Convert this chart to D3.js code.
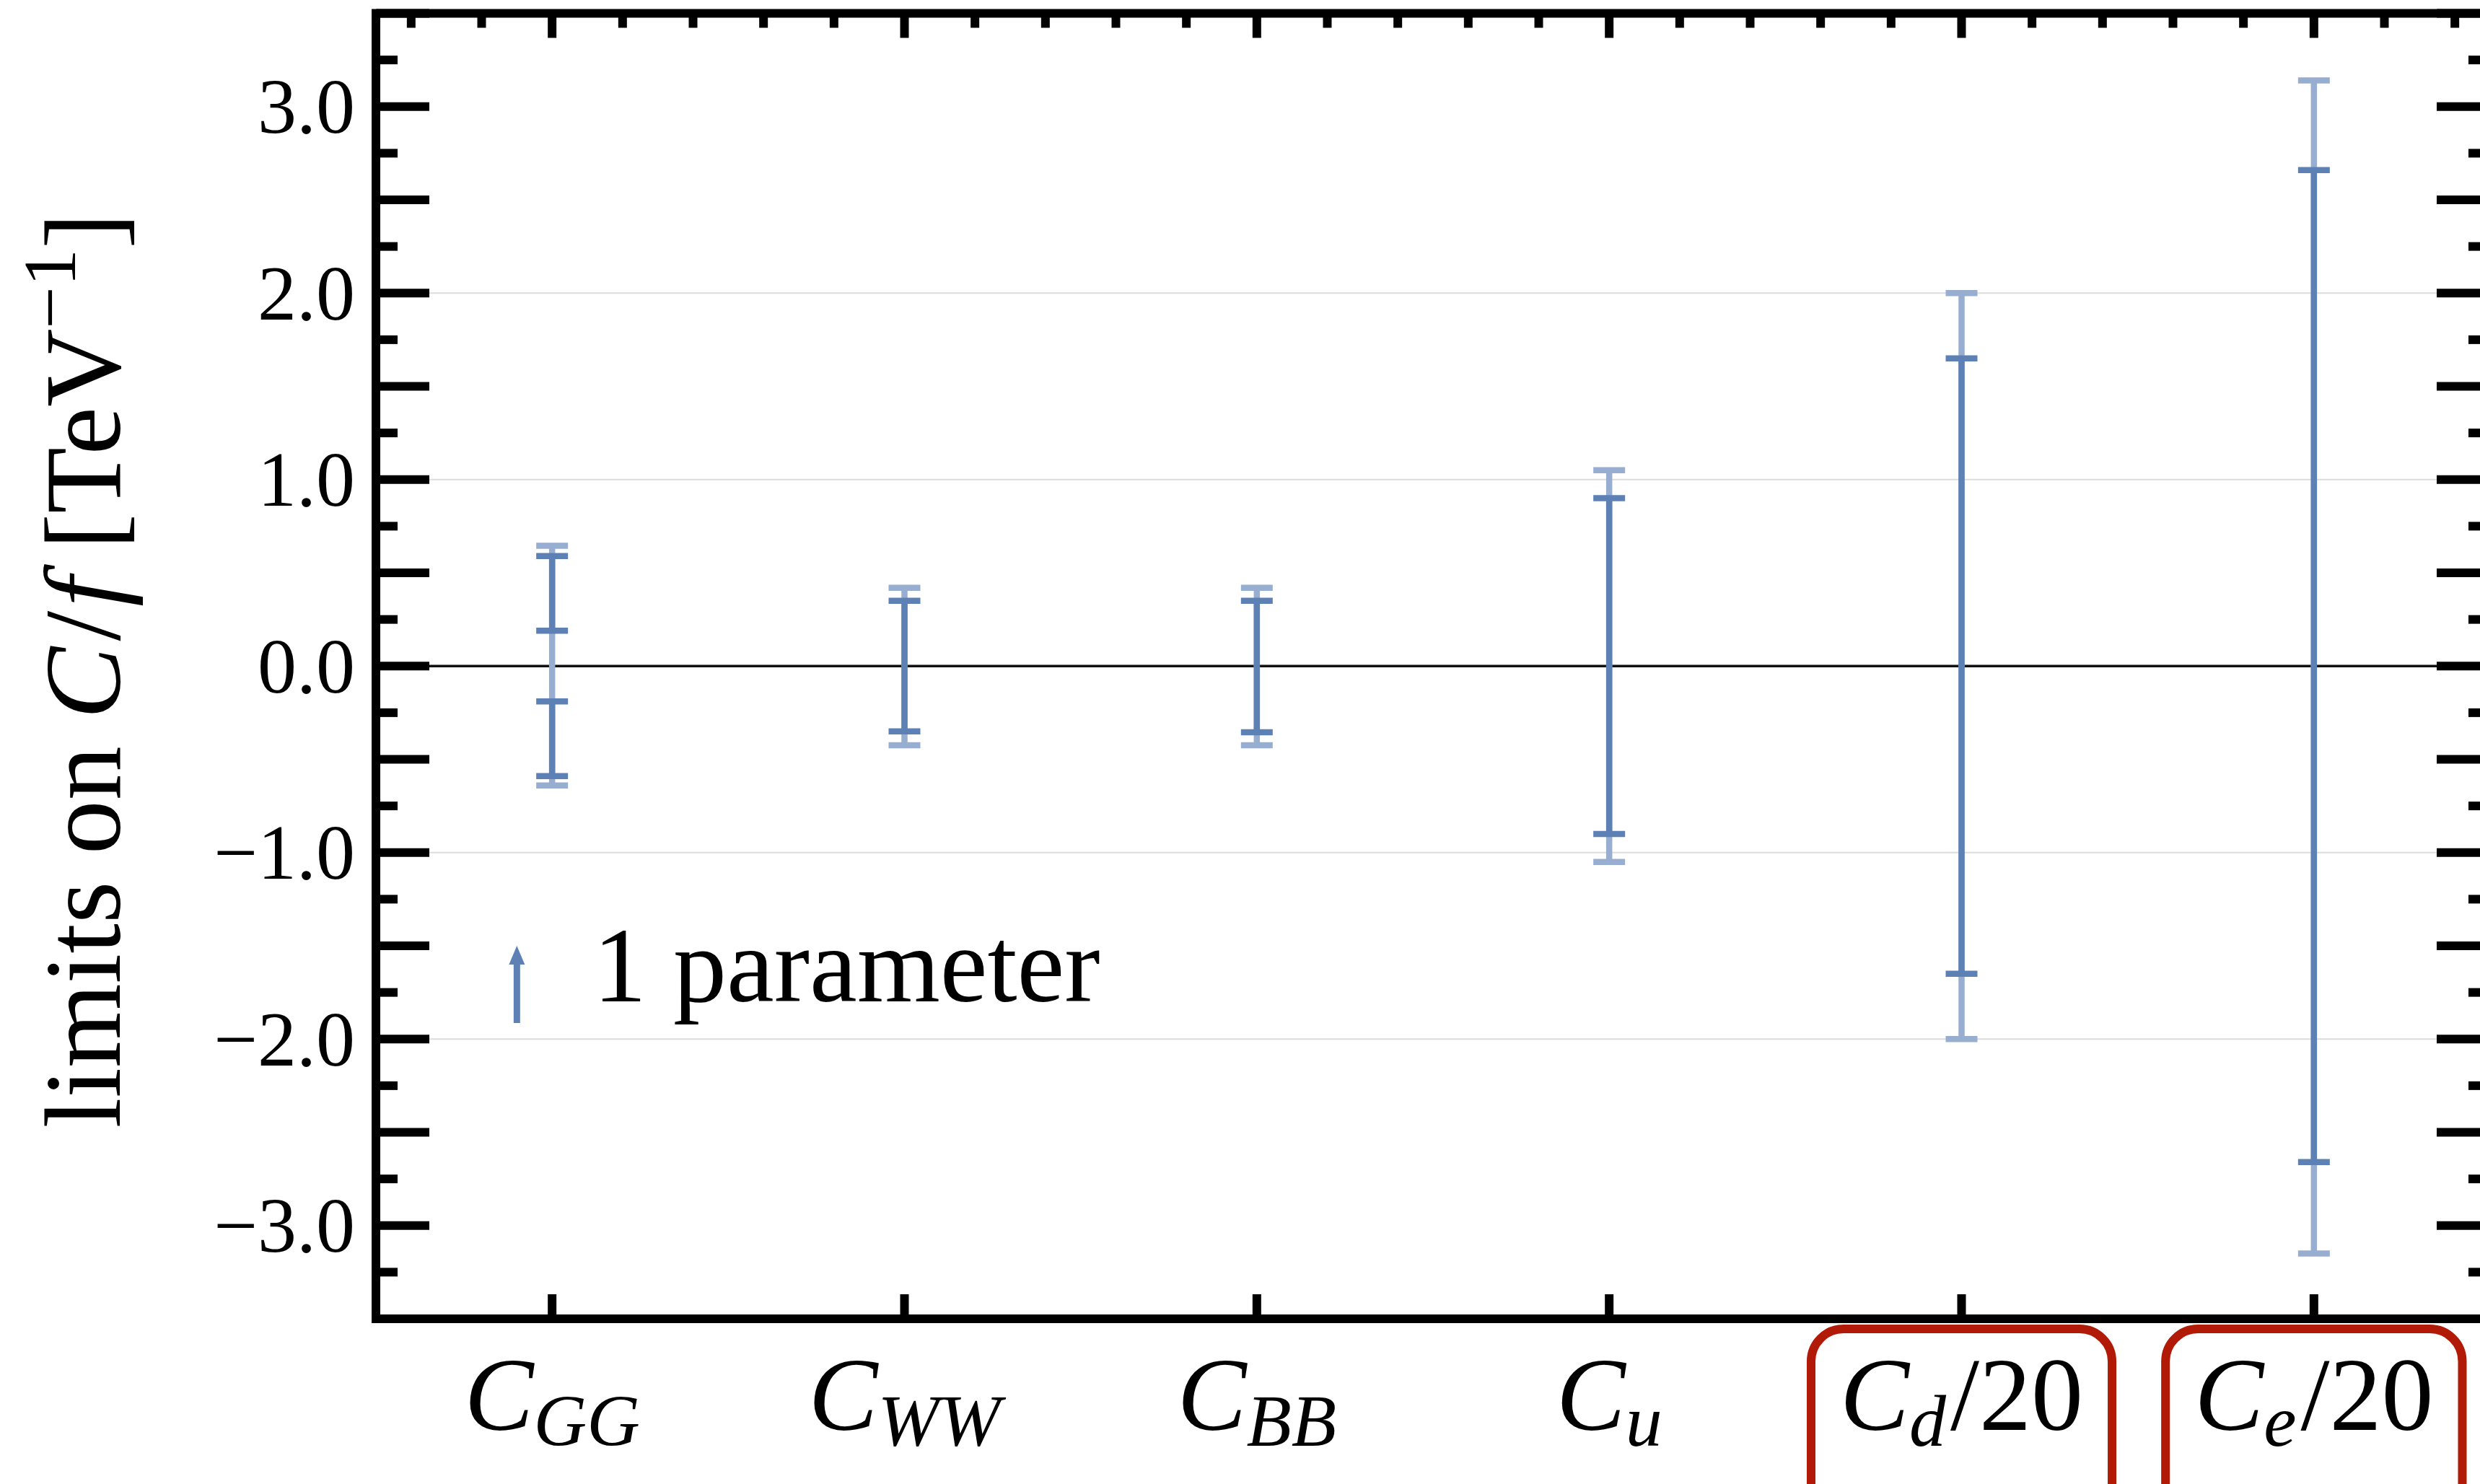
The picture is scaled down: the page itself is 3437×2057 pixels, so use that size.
<!DOCTYPE html>
<html>
<head>
<meta charset="utf-8">
<script src="https://cdn.jsdelivr.net/npm/d3@7"></script>
<style>
  html, body { margin: 0; padding: 0; background: #fff; overflow: hidden; }
  svg { display: block; }
  text { font-family: "Liberation Serif", "Times New Roman", serif; fill: #000; }
</style>
</head>
<body>
<script>
// ---- data ----
const categories = ["C_GG", "C_WW", "C_BB", "C_u", "C_d/20", "C_e/20"];
const labelMain = ["C", "C", "C", "C", "C", "C"];
const labelSub = ["GG", "WW", "BB", "u", "d", "e"];
const labelSuffix = ["", "", "", "", "/20", "/20"];
const highlighted = [false, false, false, false, true, true];
const outerLow = [-0.64, -0.425, -0.425, -1.05, -2.0, -3.15];
const outerHigh = [0.645, 0.42, 0.42, 1.05, 2.0, 3.14];
const innerSegments = [
  [[-0.59, -0.19], [0.19, 0.59]],
  [[-0.35, 0.35]],
  [[-0.355, 0.35]],
  [[-0.9, 0.9]],
  [[-1.65, 1.65]],
  [[-2.66, 2.66]]
];
const yTickValues = [-3, -2, -1, 0, 1, 2, 3];
const yTickLabels = ["\u22123.0", "\u22122.0", "\u22121.0", "0.0", "1.0", "2.0", "3.0"];
const gridValues = [-2, -1, 1, 2];
const legendLabel = "1 parameter";

// ---- layout ----
const W = 3437, H = 2057;
const darkBlue = "#5e81b5";
const lightBlue = "#98aed1";
const boxRed = "#b11a06";

const svg = d3.select("body").append("svg").attr("width", W).attr("height", H);

const x = d3.scaleLinear().domain([0.5, 6.5]).range([521, 3451]);
const y = d3.scaleLinear().domain([-3.5, 3.5]).range([1828, 18.5]);

// gridlines
svg.append("g").selectAll("line").data(gridValues).join("line")
  .attr("x1", x(0.5)).attr("x2", x(6.5))
  .attr("y1", d => y(d)).attr("y2", d => y(d))
  .attr("stroke", "#dcdcdc").attr("stroke-width", 2);

// zero line
svg.append("line")
  .attr("x1", x(0.5)).attr("x2", x(6.5))
  .attr("y1", y(0)).attr("y2", y(0))
  .attr("stroke", "#111").attr("stroke-width", 3.5);

// error bars
const capW = 44, lw = 8.5;
const gBars = svg.append("g");
categories.forEach((c, i) => {
  const cx = x(i + 1);
  const g = gBars.append("g");
  // outer (light)
  g.append("line").attr("x1", cx).attr("x2", cx)
    .attr("y1", y(outerLow[i])).attr("y2", y(outerHigh[i]))
    .attr("stroke", lightBlue).attr("stroke-width", lw);
  [outerLow[i], outerHigh[i]].forEach(v => {
    g.append("line").attr("x1", cx - capW / 2).attr("x2", cx + capW / 2)
      .attr("y1", y(v)).attr("y2", y(v))
      .attr("stroke", lightBlue).attr("stroke-width", lw);
  });
  // inner (dark)
  innerSegments[i].forEach(seg => {
    g.append("line").attr("x1", cx).attr("x2", cx)
      .attr("y1", y(seg[0])).attr("y2", y(seg[1]))
      .attr("stroke", darkBlue).attr("stroke-width", lw);
    seg.forEach(v => {
      g.append("line").attr("x1", cx - capW / 2).attr("x2", cx + capW / 2)
        .attr("y1", y(v)).attr("y2", y(v))
        .attr("stroke", darkBlue).attr("stroke-width", lw);
    });
  });
});

// frame
const frameW = 12;
const fx0 = x(0.5), fx1 = x(6.5), fy0 = y(3.5), fy1 = y(-3.5);
svg.append("rect").attr("x", fx0).attr("y", fy0)
  .attr("width", fx1 - fx0).attr("height", fy1 - fy0)
  .attr("fill", "none").attr("stroke", "#000").attr("stroke-width", frameW);

// left/right ticks
const yMajor = d3.range(-3.5, 3.51, 0.5);
const yMinor = d3.range(-3.25, 3.3, 0.5);
const tickG = svg.append("g").attr("stroke", "#000").attr("stroke-width", frameW);
yMajor.forEach(v => {
  tickG.append("line").attr("x1", fx0).attr("x2", fx0 + 74).attr("y1", y(v)).attr("y2", y(v));
  tickG.append("line").attr("x1", fx1).attr("x2", fx1 - 74).attr("y1", y(v)).attr("y2", y(v));
});
yMinor.forEach(v => {
  tickG.append("line").attr("x1", fx0).attr("x2", fx0 + 30).attr("y1", y(v)).attr("y2", y(v));
  tickG.append("line").attr("x1", fx1).attr("x2", fx1 - 30).attr("y1", y(v)).attr("y2", y(v));
});
// top/bottom ticks
categories.forEach((c, i) => {
  const cx = x(i + 1);
  tickG.append("line").attr("x1", cx).attr("x2", cx).attr("y1", fy0).attr("y2", fy0 + 34);
  tickG.append("line").attr("x1", cx).attr("x2", cx).attr("y1", fy1).attr("y2", fy1 - 34);
  [-0.4, -0.2, 0.2, 0.4].forEach(o => {
    const mx = x(i + 1 + o);
    tickG.append("line").attr("x1", mx).attr("x2", mx).attr("y1", fy0).attr("y2", fy0 + 20);
  });
});

// y tick labels
svg.append("g").selectAll("text").data(yTickValues).join("text")
  .attr("x", 492).attr("y", d => y(d))
  .attr("dy", "0.34em")
  .attr("text-anchor", "end")
  .attr("font-size", 108)
  .text((d, i) => yTickLabels[i]);

// y axis title
const title = svg.append("text")
  .attr("transform", `translate(166, ${(fy0 + fy1) / 2 + 6}) rotate(-90)`)
  .attr("text-anchor", "middle")
  .attr("font-size", 150);
title.append("tspan").text("limits on ");
title.append("tspan").attr("font-style", "italic").text("C");
title.append("tspan").attr("dx", 8).text("/");
title.append("tspan").attr("font-style", "italic").attr("dx", 6).text("f");
title.append("tspan").text(" [TeV");
title.append("tspan").attr("font-size", 104).attr("dy", -62).text("\u22121");
title.append("tspan").attr("dy", 62).text("]");

// x labels
categories.forEach((c, i) => {
  const cx = x(i + 1);
  const t = svg.append("text")
    .attr("x", cx).attr("y", 1982)
    .attr("text-anchor", "middle")
    .attr("font-size", 144);
  t.append("tspan").attr("font-style", "italic").text(labelMain[i]);
  t.append("tspan").attr("font-style", "italic").attr("font-size", 102).attr("dy", 22).text(labelSub[i]);
  if (labelSuffix[i]) t.append("tspan").attr("dy", -22).attr("dx", 6).text(labelSuffix[i]);
  if (highlighted[i]) {
    const bb = t.node().getBBox();
    svg.append("rect")
      .attr("x", bb.x - 40).attr("y", 1842)
      .attr("width", bb.width + 80).attr("height", 260)
      .attr("rx", 45).attr("ry", 45)
      .attr("fill", "none").attr("stroke", boxRed).attr("stroke-width", 12);
  }
});

// legend
const lx = x(0.5 + 0.4);
const ly0 = 1418, ly1 = 1311;
svg.append("line").attr("x1", lx).attr("x2", lx).attr("y1", ly0).attr("y2", ly1 + 20)
  .attr("stroke", darkBlue).attr("stroke-width", 9);
svg.append("path")
  .attr("d", `M${lx},${ly1} L${lx - 11},${ly1 + 26} L${lx + 11},${ly1 + 26} Z`)
  .attr("fill", darkBlue);
svg.append("text")
  .attr("x", 822).attr("y", 1388)
  .attr("font-size", 148)
  .text(legendLabel);
</script>
</body>
</html>
